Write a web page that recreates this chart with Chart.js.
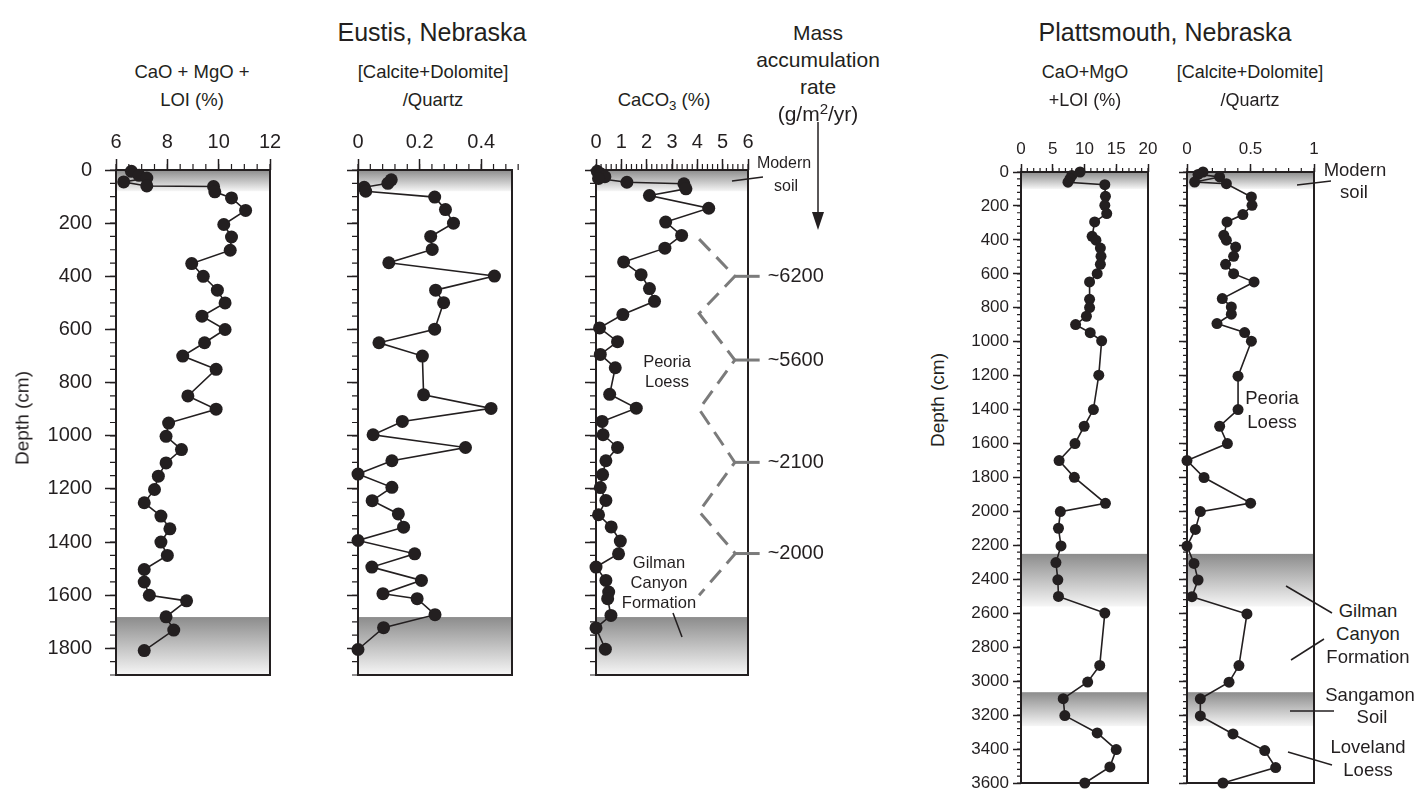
<!DOCTYPE html>
<html>
<head>
<meta charset="utf-8">
<title>Eustis and Plattsmouth, Nebraska</title>
<script src="https://cdn.jsdelivr.net/npm/chart.js@4.4.1/dist/chart.umd.min.js"></script>
<style>
  html, body { margin: 0; padding: 0; background: #fff; }
  #page { position: relative; width: 1419px; height: 792px; overflow: hidden;
          font-family: 'Liberation Sans', Arial, Helvetica, sans-serif; color: #231f20; }
  #page canvas { position: absolute; }
  .t { position: absolute; white-space: nowrap; transform: translate(-50%, -50%); line-height: 1; }
  .v { transform: translate(-50%, -50%) rotate(-90deg); }
  sub { font-size: 0.72em; vertical-align: -0.3em; line-height: 0; }
  sup { font-size: 0.72em; vertical-align: 0.45em; line-height: 0; }
  svg { position: absolute; left: 0; top: 0; }
</style>
</head>
<body>
<div id="page">
  <canvas id="eustisCao"></canvas>
  <canvas id="eustisRatio"></canvas>
  <canvas id="eustisCaco3"></canvas>
  <canvas id="plattCao"></canvas>
  <canvas id="plattRatio"></canvas>

  <div class="t" style="left:432px;top:32px;font-size:25px">Eustis, Nebraska</div>
  <div class="t" style="left:1165px;top:32px;font-size:25px">Plattsmouth, Nebraska</div>

  <div class="t" style="left:192px;top:72px;font-size:18.5px">CaO + MgO +</div>
  <div class="t" style="left:192px;top:100px;font-size:18.5px">LOI (%)</div>
  <div class="t" style="left:433px;top:72px;font-size:18.5px">[Calcite+Dolomite]</div>
  <div class="t" style="left:433px;top:100px;font-size:18.5px">/Quartz</div>
  <div class="t" style="left:664px;top:100px;font-size:18.5px">CaCO<sub>3</sub> (%)</div>

  <div class="t" style="left:818px;top:32px;font-size:21px">Mass</div>
  <div class="t" style="left:818px;top:59px;font-size:21px">accumulation</div>
  <div class="t" style="left:818px;top:86px;font-size:21px">rate</div>
  <div class="t" style="left:818px;top:113px;font-size:21px">(g/m<sup>2</sup>/yr)</div>

  <div class="t" style="left:1085px;top:72px;font-size:18px">CaO+MgO</div>
  <div class="t" style="left:1085px;top:100px;font-size:18px">+LOI (%)</div>
  <div class="t" style="left:1250px;top:72px;font-size:18px">[Calcite+Dolomite]</div>
  <div class="t" style="left:1250px;top:100px;font-size:18px">/Quartz</div>

  <div class="t v" style="left:22px;top:418px;font-size:19px">Depth (cm)</div>
  <div class="t v" style="left:937px;top:400px;font-size:19px">Depth (cm)</div>

  <div class="t" style="left:784px;top:163px;font-size:16px">Modern</div>
  <div class="t" style="left:786px;top:186px;font-size:16px">soil</div>
  <div class="t" style="left:667px;top:361px;font-size:16.5px">Peoria</div>
  <div class="t" style="left:667px;top:381px;font-size:16.5px">Loess</div>
  <div class="t" style="left:659px;top:562px;font-size:16.5px">Gilman</div>
  <div class="t" style="left:659px;top:582px;font-size:16.5px">Canyon</div>
  <div class="t" style="left:659px;top:602px;font-size:16.5px">Formation</div>

  <div class="t" style="left:1355px;top:170px;font-size:18.5px">Modern</div>
  <div class="t" style="left:1354px;top:192px;font-size:18.5px">soil</div>
  <div class="t" style="left:1272px;top:398px;font-size:18.5px">Peoria</div>
  <div class="t" style="left:1272px;top:422px;font-size:18.5px">Loess</div>
  <div class="t" style="left:1368px;top:611px;font-size:18.5px">Gilman</div>
  <div class="t" style="left:1368px;top:634px;font-size:18.5px">Canyon</div>
  <div class="t" style="left:1368px;top:657px;font-size:18.5px">Formation</div>
  <div class="t" style="left:1370px;top:695px;font-size:18.5px">Sangamon</div>
  <div class="t" style="left:1372px;top:717px;font-size:18.5px">Soil</div>
  <div class="t" style="left:1368px;top:747px;font-size:18.5px">Loveland</div>
  <div class="t" style="left:1368px;top:770px;font-size:18.5px">Loess</div>

  <svg width="1419" height="792">
    <g stroke="#231f20" stroke-width="1.5" fill="none">
      <line x1="732" y1="181" x2="763" y2="177"/>
      <line x1="673" y1="613" x2="682" y2="637"/>
      <line x1="1297" y1="185" x2="1331" y2="181"/>
      <line x1="1286" y1="586" x2="1332" y2="613"/>
      <line x1="1291" y1="660" x2="1324" y2="639"/>
      <line x1="1290" y1="711" x2="1334" y2="711"/>
      <line x1="1288" y1="752" x2="1332" y2="765"/>
      <line x1="818" y1="122" x2="818" y2="214"/>
    </g>
    <polygon points="812,212 824,212 818,230" fill="#231f20"/>
  </svg>
</div>

<script>
const INK = '#231f20';
const FONT = "'Liberation Sans', Arial, Helvetica, sans-serif";

// ---- Eustis, Nebraska ----
const eustisDepthTicks = [0, 200, 400, 600, 800, 1000, 1200, 1400, 1600, 1800];
const eustisCaoTicks = [6, 8, 10, 12];
const eustisRatioTicks = [0, 0.2, 0.4];
const eustisCaco3Ticks = [0, 1, 2, 3, 4, 5, 6];
const eustisBands = [[0, 80], [1682, 1900]];

// CaO + MgO + LOI (%)
const eustisCaoDepth = [5, 20, 30, 45, 60, 62, 82, 105, 152, 205, 252, 302, 352, 400, 452, 500, 550, 600, 650, 700, 750, 850, 900,
  952, 1002, 1052, 1102, 1152, 1202, 1252, 1302, 1350, 1400, 1450, 1503, 1550, 1600, 1621, 1681, 1731, 1808];
const eustisCaoValue = [6.6, 6.9, 7.2, 6.3, 7.2, 9.8, 9.85, 10.5, 11.05, 10.2, 10.5, 10.45, 8.95, 9.4, 9.95, 10.25, 9.35, 10.25, 9.45, 8.6, 9.9, 8.8, 9.9,
  8.05, 7.95, 8.55, 7.95, 7.65, 7.5, 7.1, 7.75, 8.1, 7.75, 8.0, 7.1, 7.1, 7.3, 8.75, 7.95, 8.25, 7.1];

// [Calcite+Dolomite]/Quartz
const eustisRatioDepth = [37, 50, 65, 80, 102, 149, 200, 250, 299, 349, 399, 452, 499, 599, 650, 700, 846, 897,
  946, 996, 1044, 1094, 1144, 1194, 1244, 1294, 1344, 1394, 1444, 1494, 1544, 1594, 1613, 1673, 1722, 1804];
const eustisRatioValue = [0.108, 0.097, 0.02, 0.025, 0.249, 0.284, 0.31, 0.236, 0.241, 0.1, 0.443, 0.252, 0.278, 0.249, 0.068, 0.209, 0.213, 0.432,
  0.144, 0.049, 0.349, 0.11, 0, 0.11, 0.046, 0.131, 0.148, 0, 0.184, 0.045, 0.206, 0.081, 0.192, 0.25, 0.083, 0];

// CaCO3 (%)
const eustisCaco3Depth = [5, 15, 25, 32, 46, 52, 71, 96, 144, 196, 246, 294, 346, 394, 446, 494, 544, 594, 646, 694, 744, 844, 896,
  946, 996, 1044, 1094, 1146, 1195, 1243, 1297, 1343, 1396, 1444, 1494, 1544, 1588, 1613, 1676, 1723, 1803];
const eustisCaco3Value = [0.05, 0.2, 0.35, 0.1, 1.22, 3.47, 3.55, 2.11, 4.45, 2.75, 3.38, 2.72, 1.09, 1.78, 2.11, 2.31, 1.06, 0.14, 0.85, 0.17, 0.76, 0.54, 1.59,
  0.24, 0.28, 0.85, 0.39, 0.26, 0.17, 0.39, 0.1, 0.6, 0.96, 0.89, 0, 0.39, 0.5, 0.46, 0.59, 0, 0.37];

// mass accumulation rate zigzag (drawn in CaCO3 units)
const marZigX = [4.07, 5.48, 4.07, 5.48, 4.07, 5.48, 4.07, 5.5, 4.07];
const marZigDepth = [260, 400, 540, 715, 900, 1100, 1285, 1443, 1600];
const marTickDepth = [400, 715, 1100, 1443];
const marLabels = ['~6200', '~5600', '~2100', '~2000'];

// ---- Plattsmouth, Nebraska ----
const plattDepthTicks = [0, 200, 400, 600, 800, 1000, 1200, 1400, 1600, 1800, 2000, 2200, 2400, 2600, 2800, 3000, 3200, 3400, 3600];
const plattCaoTicks = [0, 5, 10, 15, 20];
const plattRatioTicks = [0, 0.5, 1];
const plattBands = [[0, 100], [2250, 2560], [3065, 3265]];

const plattCaoDepth = [0, 20, 40, 60, 75, 143, 196, 245, 294, 379, 402, 448, 497, 544, 599, 648, 750, 799, 850, 899, 947, 995, 1197, 1400,
  1498, 1600, 1700, 1799, 1952, 2001, 2099, 2203, 2301, 2403, 2501, 2599, 2907, 3005, 3103, 3203, 3305, 3403, 3505, 3600];
const plattCaoValue = [9.3, 8.0, 7.7, 7.4, 13.2, 13.3, 13.2, 13.5, 11.6, 11.2, 11.8, 12.5, 12.6, 12.5, 12.0, 10.8, 10.8, 10.8, 10.3, 8.6, 10.9, 12.7, 12.25, 11.4,
  9.95, 8.5, 6.0, 8.4, 13.3, 6.2, 5.9, 6.3, 5.5, 5.8, 5.9, 13.2, 12.4, 10.5, 6.65, 6.9, 12.0, 15.0, 14.0, 10.05];

const plattRatioDepth = [0, 14, 29, 59, 69, 147, 196, 251, 294, 373, 402, 442, 497, 544, 599, 648, 746, 795, 838, 893, 946, 997, 1203, 1400,
  1498, 1600, 1700, 1800, 1951, 2001, 2106, 2204, 2306, 2404, 2502, 2604, 2908, 3006, 3104, 3205, 3311, 3409, 3509, 3600];
const plattRatioValue = [0.126, 0.087, 0.257, 0.06, 0.31, 0.507, 0.512, 0.44, 0.315, 0.29, 0.31, 0.383, 0.367, 0.304, 0.367, 0.528, 0.278, 0.349, 0.349, 0.236, 0.454, 0.507, 0.402, 0.402,
  0.257, 0.318, 0, 0.134, 0.501, 0.105, 0.066, 0, 0.055, 0.087, 0.039, 0.472, 0.409, 0.331, 0.105, 0.105, 0.362, 0.612, 0.698, 0.283];

// a black line with big dots
function profile(values, depths, radius) {
  return {
    data: depths.map((d, i) => ({ x: values[i], y: d })),
    showLine: true,
    borderColor: INK,
    borderWidth: 1.6,
    backgroundColor: INK,
    pointRadius: radius,
    pointBorderWidth: 0,
    clip: false
  };
}

// frame, shaded soil bands, minor ticks, and extra labels
function panelPlugin(o) {
  return {
    id: 'panel',
    beforeDatasetsDraw(chart) {
      const { ctx, chartArea: a, scales: { x, y } } = chart;
      ctx.save();
      o.bands.forEach(b => {
        const y0 = y.getPixelForValue(b[0]), y1 = y.getPixelForValue(b[1]);
        const g = ctx.createLinearGradient(0, y0, 0, y1);
        g.addColorStop(0, '#8c8c8c');
        g.addColorStop(1, '#f6f6f6');
        ctx.fillStyle = g;
        ctx.fillRect(a.left, y0, a.right - a.left, y1 - y0);
      });
      ctx.strokeStyle = INK;
      ctx.lineWidth = 2;
      ctx.strokeRect(a.left, a.top, a.right - a.left, a.bottom - a.top);

      ctx.lineWidth = 1.2;
      ctx.beginPath();
      const nx = Math.round((x.max - x.min) / o.xMinor);
      for (let i = 0; i <= nx; i++) {
        const px = x.getPixelForValue(x.min + i * o.xMinor);
        ctx.moveTo(px, a.top);
        ctx.lineTo(px, a.top - o.minorLen);
      }
      const ny = Math.round((y.max - y.min) / o.yMinor);
      for (let i = 0; i <= ny; i++) {
        const py = y.getPixelForValue(y.min + i * o.yMinor);
        ctx.moveTo(a.left, py);
        ctx.lineTo(a.left - o.minorLen, py);
      }
      ctx.stroke();
      ctx.restore();
    },
    afterDraw(chart) {
      if (!o.sideLabels) return;
      const { ctx, scales: { x, y } } = chart;
      ctx.save();
      ctx.fillStyle = INK;
      ctx.font = '20px ' + FONT;
      ctx.textAlign = 'left';
      ctx.textBaseline = 'middle';
      o.sideLabels.depths.forEach((d, i) => {
        ctx.fillText(o.sideLabels.text[i], x.getPixelForValue(o.sideLabels.x) + 8, y.getPixelForValue(d));
      });
      ctx.restore();
    }
  };
}

function makePanel(id, o) {
  const cv = document.getElementById(id);
  const W = o.padL + (o.r - o.l) + o.padR;
  const H = o.padT + (o.b - o.t) + o.padB;
  cv.width = W; cv.height = H;
  cv.style.width = W + 'px'; cv.style.height = H + 'px';
  cv.style.left = (o.l - o.padL) + 'px';
  cv.style.top = (o.t - o.padT) + 'px';

  const tickFont = { family: FONT, size: o.tickSize };
  const grid = { drawOnChartArea: false, drawTicks: true, tickLength: o.majorLen, tickColor: INK, tickWidth: 1.5 };

  return new Chart(cv, {
    type: 'scatter',
    data: { datasets: o.datasets },
    options: {
      responsive: false,
      animation: false,
      devicePixelRatio: 1,
      layout: { autoPadding: false, padding: { left: 0, top: 0, right: o.padR, bottom: o.padB } },
      plugins: { legend: { display: false }, tooltip: { enabled: false } },
      scales: {
        x: {
          type: 'linear', position: 'top', min: o.xMin, max: o.xMax,
          afterBuildTicks: s => { s.ticks = o.xTicks.map(v => ({ value: v })); },
          afterFit: s => { s.height = o.padT; },
          ticks: { autoSkip: false, maxRotation: 0, padding: o.xPad, color: INK, font: tickFont, callback: v => String(v) },
          grid: grid,
          border: { display: false }
        },
        y: {
          type: 'linear', reverse: true, min: 0, max: o.yMax,
          afterBuildTicks: s => { s.ticks = o.yTicks.map(v => ({ value: v })); },
          afterFit: s => { s.width = o.padL; },
          ticks: { display: o.yLabels, autoSkip: false, padding: o.yPad, color: INK, font: tickFont, callback: v => String(v) },
          grid: grid,
          border: { display: false }
        }
      }
    },
    plugins: [panelPlugin(o)]
  });
}

const eustisCommon = { t: 170, b: 675, yMax: 1900, yTicks: eustisDepthTicks, yMinor: 50, bands: eustisBands,
  padT: 50, padB: 40, tickSize: 20, majorLen: 11, minorLen: 6, xPad: 5, yPad: 13 };
const plattCommon = { t: 172, b: 783, yMax: 3600, yTicks: plattDepthTicks, yMinor: 40, bands: plattBands,
  padT: 48, padB: 40, tickSize: 17, majorLen: 8, minorLen: 4, xPad: 4, yPad: 4 };

makePanel('eustisCao', Object.assign({}, eustisCommon, {
  l: 116, r: 270, padL: 116, padR: 25, yLabels: true,
  xMin: 6, xMax: 12, xTicks: eustisCaoTicks, xMinor: 0.5,
  datasets: [profile(eustisCaoValue, eustisCaoDepth, 6.5)]
}));

makePanel('eustisRatio', Object.assign({}, eustisCommon, {
  l: 358, r: 512, padL: 20, padR: 25, yLabels: false,
  xMin: 0, xMax: 0.5, xTicks: eustisRatioTicks, xMinor: 0.04,
  datasets: [profile(eustisRatioValue, eustisRatioDepth, 6.5)]
}));

const marDash = {
  data: marZigDepth.map((d, i) => ({ x: marZigX[i], y: d })),
  showLine: true, borderColor: '#7b7b7b', borderWidth: 3, borderDash: [16, 9],
  pointRadius: 0, clip: false
};
const marTicks = marTickDepth.map((d, i) => ({
  data: [{ x: marZigX[2 * i + 1], y: d }, { x: 6.46, y: d }],
  showLine: true, borderColor: '#7b7b7b', borderWidth: 3, pointRadius: 0, clip: false
}));

makePanel('eustisCaco3', Object.assign({}, eustisCommon, {
  l: 596, r: 748, padL: 20, padR: 95, yLabels: false,
  xMin: 0, xMax: 6, xTicks: eustisCaco3Ticks, xMinor: 0.2,
  sideLabels: { x: 6.46, depths: marTickDepth, text: marLabels },
  datasets: [profile(eustisCaco3Value, eustisCaco3Depth, 6.5), marDash].concat(marTicks)
}));

makePanel('plattCao', Object.assign({}, plattCommon, {
  l: 1021, r: 1148, padL: 60, padR: 20, yLabels: true,
  xMin: 0, xMax: 20, xTicks: plattCaoTicks, xMinor: 1,
  datasets: [profile(plattCaoValue, plattCaoDepth, 5.5)]
}));

makePanel('plattRatio', Object.assign({}, plattCommon, {
  l: 1187, r: 1314, padL: 15, padR: 20, yLabels: false,
  xMin: 0, xMax: 1, xTicks: plattRatioTicks, xMinor: 0.1,
  datasets: [profile(plattRatioValue, plattRatioDepth, 5.5)]
}));
</script>
</body>
</html>
